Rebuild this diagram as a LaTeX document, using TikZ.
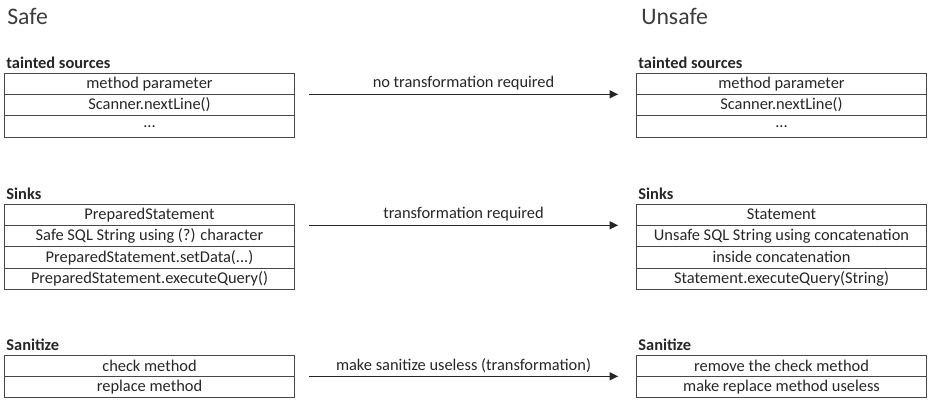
\documentclass[tikz,border=0pt]{standalone}
\usepackage{fontspec}
\setmainfont{Carlito}
\usetikzlibrary{arrows.meta,positioning}
\definecolor{ink}{HTML}{262626}

\begin{document}
\begin{tikzpicture}[x=0.75pt, y=-0.75pt, font=\fontsize{12.3}{14}\selectfont, node distance=0pt,
 row/.style={draw=ink!85,line width=0.75pt,minimum width=217pt,minimum height=16pt,inner sep=0pt,outer sep=0pt,anchor=north,text=ink},
 hdr/.style={anchor=south west,font=\fontsize{12.3}{14}\selectfont\bfseries,inner xsep=1pt,inner ysep=3.5pt,text depth=0pt,text=ink},
 ttl/.style={anchor=west,font=\fontsize{17.8}{20}\selectfont,text=ink!90,inner sep=0pt},
 arr/.style={-{Triangle[length=6.5pt,width=6pt]},draw=ink,line width=1.1pt},
 lbl/.style={above,inner sep=2.5pt,text=ink}]
\useasboundingbox (0,0) rectangle (930,400);
\node[ttl] (safe) at (7,16) {Safe};
\node[ttl] (unsafe) at (641,16) {Unsafe};
% tainted sources
\node[row] (t1) at (149.5,73) {method parameter};
\node[row, below=of t1] (t2) {Scanner.nextLine()};
\node[row, below=of t2] (t3) {...};
\node[hdr] (th) at (t1.north west) {tainted sources};
\node[row] (u1) at (781.5,73) {method parameter};
\node[row, below=of u1] (u2) {Scanner.nextLine()};
\node[row, below=of u2] (u3) {...};
\node[hdr] (uh) at (u1.north west) {tainted sources};
% sinks
\node[row] (s1) at (149.5,204) {PreparedStatement};
\node[row, below=of s1] (s2) {Safe SQL String using (?) character};
\node[row, below=of s2] (s3) {PreparedStatement.setData(...)};
\node[row, below=of s3] (s4) {PreparedStatement.executeQuery()};
\node[hdr] (sh) at (s1.north west) {Sinks};
\node[row] (v1) at (781.5,204) {Statement};
\node[row, below=of v1] (v2) {Unsafe SQL String using concatenation};
\node[row, below=of v2] (v3) {inside concatenation};
\node[row, below=of v3] (v4) {Statement.executeQuery(String)};
\node[hdr] (vh) at (v1.north west) {Sinks};
% sanitize
\node[row] (z1) at (149.5,355) {check method};
\node[row, below=of z1] (z2) {replace method};
\node[hdr] (zh) at (z1.north west) {Sanitize};
\node[row] (w1) at (781.5,355) {remove the check method};
\node[row, below=of w1] (w2) {make replace method useless};
\node[hdr] (wh) at (w1.north west) {Sanitize};
\draw[arr] ([xshift=11pt]t1.south east) -- ([xshift=-14pt]u1.south west) node[lbl,midway] {no transformation required};
\draw[arr] ([xshift=11pt]s1.south east) -- ([xshift=-14pt]v1.south west) node[lbl,midway] {transformation required};
\draw[arr] ([xshift=11pt]z1.south east) -- ([xshift=-14pt]w1.south west) node[lbl,midway] {make sanitize useless (transformation)};
\end{tikzpicture}
\end{document}
